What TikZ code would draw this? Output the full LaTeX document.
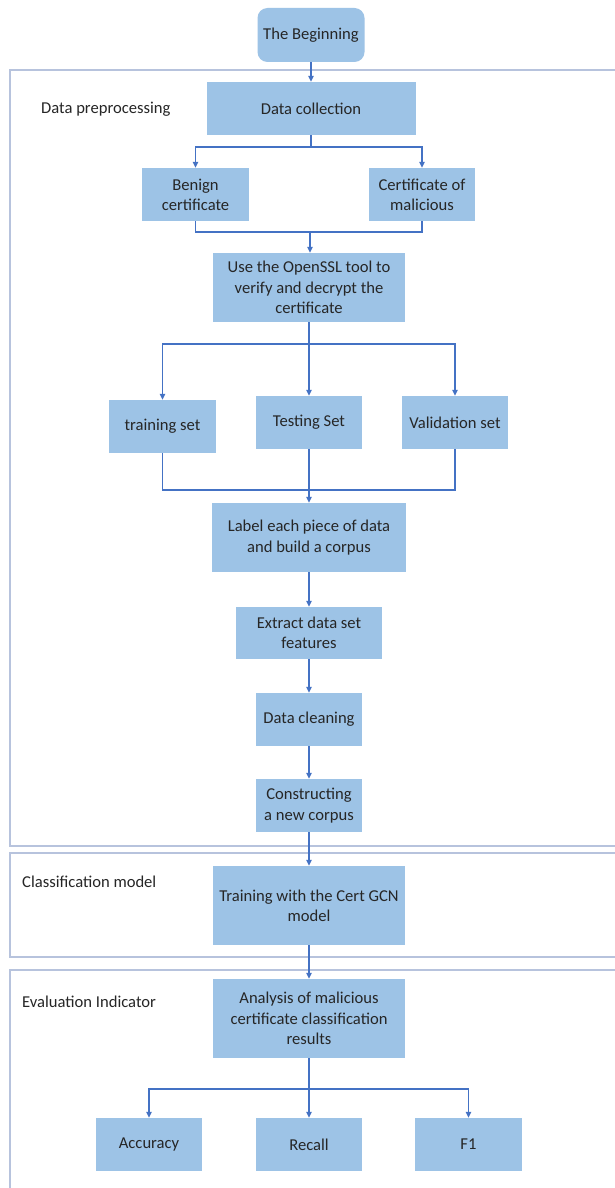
\documentclass[tikz,border=0pt]{standalone}
\usepackage{fontspec}
\setmainfont{Carlito}
\usetikzlibrary{arrows.meta}
\definecolor{boxfill}{HTML}{9DC3E6}
\definecolor{arrowc}{HTML}{4472C4}
\definecolor{framec}{HTML}{B7C3DD}
\definecolor{txt}{HTML}{262626}
\begin{document}
\begin{tikzpicture}[x=1pt,y=-1pt,
  stepbox/.style={rectangle,fill=boxfill,draw=none,inner sep=0pt,align=center,text=txt,
    font=\fontsize{16.6}{20.3}\selectfont},
  lbl/.style={anchor=west,inner sep=0pt,text=txt,font=\fontsize{16.6}{20.3}\selectfont},
  frame/.style={draw=framec,line width=1.5pt},
  conn/.style={draw=arrowc,line width=1.2pt},
  arr/.style={conn,-{Triangle[length=6pt,width=5.5pt]}}]
\useasboundingbox (0,0) rectangle (615,1188);
\clip (0,0) rectangle (615,1188);
\fill[white] (0,0) rectangle (615,1188);
% frames
\draw[frame] (10,70) rectangle (625,846);
\draw[frame] (10,853) rectangle (625,957);
\draw[frame] (10,970) rectangle (625,1210);
% labels
\node[lbl] (l1) at (41,109) {Data preprocessing};
\node[lbl] (l2) at (22,882) {Classification model};
\node[lbl] (l3) at (22,1002) {Evaluation Indicator};
% boxes
\node[stepbox,rounded corners=10pt,minimum width=107pt,minimum height=54pt] (begin) at (311,35) {The Beginning};
\node[stepbox,minimum width=209pt,minimum height=53pt] (dc) at (311,108.5) {Data collection};
\node[stepbox,minimum width=107pt,minimum height=53pt] (benign) at (195.5,194.5) {Benign\\certificate};
\node[stepbox,minimum width=106pt,minimum height=53pt] (malic) at (422,194.5) {Certificate of\\malicious};
\node[stepbox,minimum width=192pt,minimum height=69pt] (ossl) at (309,287.5) {Use the OpenSSL tool to\\verify and decrypt the\\certificate};
\node[stepbox,minimum width=107pt,minimum height=53pt] (train) at (162.5,426.5) {training set};
\node[stepbox,minimum width=106pt,minimum height=53pt] (test) at (309,422.5) {Testing Set};
\node[stepbox,minimum width=106pt,minimum height=53pt] (valid) at (455,422.5) {Validation set};
\node[stepbox,minimum width=194pt,minimum height=69pt] (label) at (309,537.5) {Label each piece of data\\and build a corpus};
\node[stepbox,minimum width=146pt,minimum height=52pt] (extract) at (309,633) {Extract data set\\features};
\node[stepbox,minimum width=106pt,minimum height=53pt] (clean) at (309,719.5) {Data cleaning};
\node[stepbox,minimum width=106pt,minimum height=53pt] (construct) at (309,805.5) {Constructing\\a new corpus};
\node[stepbox,minimum width=192pt,minimum height=79pt] (gcn) at (309,905.5) {Training with the Cert GCN\\model};
\node[stepbox,minimum width=192pt,minimum height=79pt] (anal) at (309,1018.5) {Analysis of malicious\\certificate classification\\results};
\node[stepbox,minimum width=106pt,minimum height=53pt] (acc) at (149,1144.5) {Accuracy};
\node[stepbox,minimum width=106pt,minimum height=53pt] (rec) at (309,1144.5) {Recall};
\node[stepbox,minimum width=107pt,minimum height=53pt] (f1) at (468.5,1144.5) {F1};
% connector coordinates
\coordinate (s1) at (311,147);
\coordinate (m1) at (310,232);
\coordinate (s2) at (309,344);
\coordinate (m2) at (309,490);
\coordinate (s3) at (309,1089);
% connectors
\draw[arr] (begin.south) -- (dc.north);
\draw[conn] (dc.south) -- (s1);
\draw[arr] (s1) -| (benign.north);
\draw[arr] (s1) -| (malic.north);
\draw[conn] (benign.south) |- (m1);
\draw[conn] (malic.south) |- (m1);
\draw[arr] (m1) -- (m1 |- ossl.north);
\draw[conn] (ossl.south) -- (s2);
\draw[arr] (s2) -| (train.north);
\draw[arr] (s2) -- (test.north);
\draw[arr] (s2) -| (valid.north);
\draw[conn] (train.south) |- (m2);
\draw[conn] (valid.south) |- (m2);
\draw[conn] (test.south) -- (m2);
\draw[arr] (m2) -- (label.north);
\draw[arr] (label.south) -- (extract.north);
\draw[arr] (extract.south) -- (clean.north);
\draw[arr] (clean.south) -- (construct.north);
\draw[arr] (construct.south) -- (gcn.north);
\draw[arr] (gcn.south) -- (anal.north);
\draw[conn] (anal.south) -- (s3);
\draw[arr] (s3) -| (acc.north);
\draw[arr] (s3) -- (rec.north);
\draw[arr] (s3) -| (f1.north);
\end{tikzpicture}
\end{document}
